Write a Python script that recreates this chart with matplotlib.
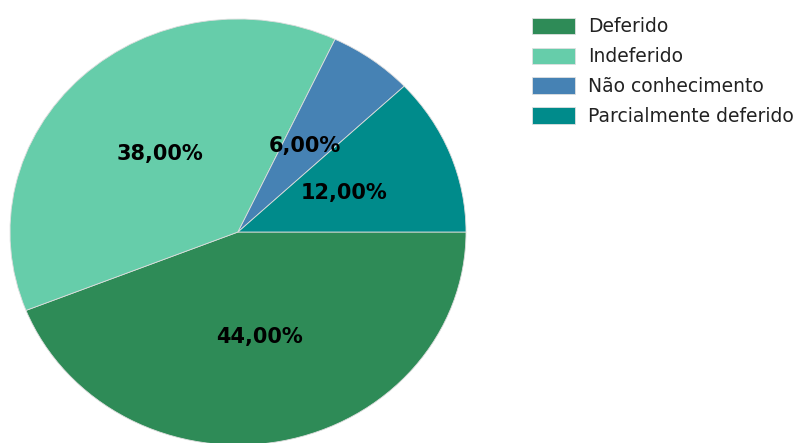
import matplotlib
matplotlib.use("Agg")
import matplotlib.pyplot as plt

categories = ["Deferido", "Indeferido", "Não conhecimento", "Parcialmente deferido"]
values = [44, 38, 6, 12]
colors = ["#2E8B57", "#66CDAA", "#4682B4", "#008B8B"]

W, H = 805, 443
fig = plt.figure(figsize=(W / 100, H / 100), dpi=100)
# pie bounding box in pixels (x0, y0_top, x1, y1_bottom)
px0, py0, px1, py1 = 10, 19, 466, 445
ax = fig.add_axes([px0 / W, 1 - py1 / H, (px1 - px0) / W, (py1 - py0) / H])

def fmt(p):
    return f"{p:.2f}%".replace(".", ",")

wedges, texts, autotexts = ax.pie(
    values, colors=colors, startangle=0, counterclock=False,
    autopct=fmt, pctdistance=0.5,
    wedgeprops=dict(linewidth=0.6, edgecolor="#dddddd"),
    textprops=dict(fontsize=15, fontweight="bold", color="black"),
)
ax.set_aspect("auto")
ax.set_xlim(-1, 1)
ax.set_ylim(-1, 1)
ax.axis("off")

leg = fig.legend(
    wedges, categories, loc="upper left",
    bbox_to_anchor=(524 / W, 1 - 10 / H), frameon=False,
    fontsize=13.5, handlelength=2.3, handleheight=1.0,
    labelspacing=0.58, handletextpad=0.7, borderaxespad=0,
)
for t in leg.get_texts():
    t.set_color("#222222")
for h in leg.legend_handles:
    h.set_edgecolor("#e0e0e0")

fig.savefig("out.png", dpi=100)
